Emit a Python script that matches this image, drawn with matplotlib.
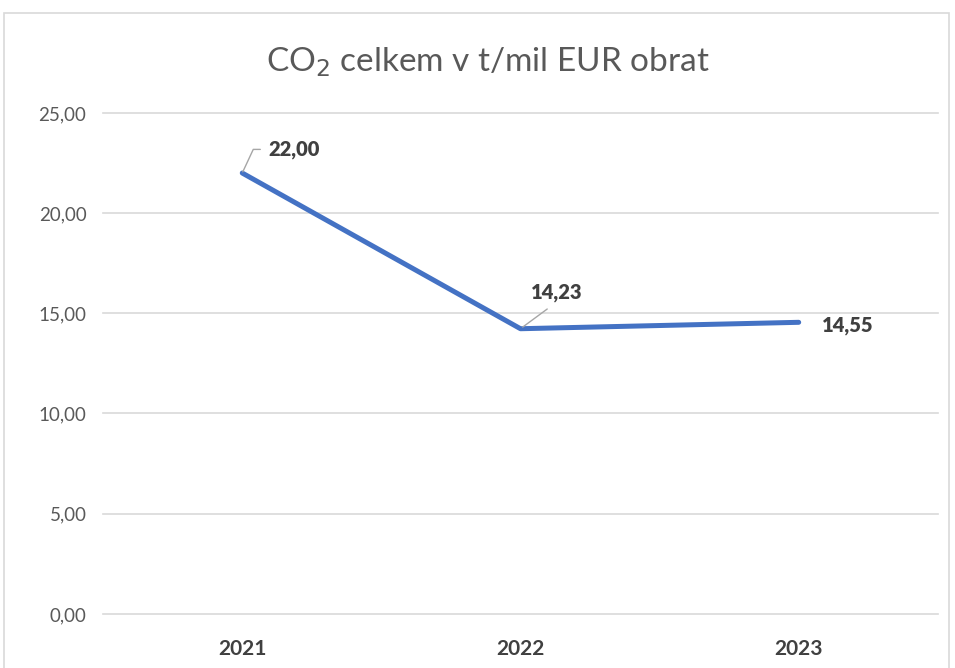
import matplotlib.pyplot as plt
from matplotlib.patches import Rectangle

years = ["2021", "2022", "2023"]
values = [22.00, 14.23, 14.55]
yticks = [0, 5, 10, 15, 20, 25]

plt.rcParams["font.family"] = ["Lato", "DejaVu Sans"]


def fmt(v):
    return f"{v:.2f}".replace(".", ",")


def main():
    fig = plt.figure(figsize=(9.55, 6.68), dpi=100)
    ax = fig.add_axes([0.108, 0.081, 0.874, 0.75])

    # chart border
    fig.patches.append(Rectangle((0.004, -0.01), 0.99, 0.99, transform=fig.transFigure,
                                 fill=False, edgecolor="#d9d9d9", linewidth=1.2))

    x = list(range(len(years)))
    ax.plot(x, values, color="#4472C4", linewidth=3.6, solid_capstyle="round", zorder=3)

    ax.set_xlim(-0.5, len(years) - 0.5)
    ax.set_ylim(0, 25)
    ax.set_yticks(yticks)
    ax.set_yticklabels([fmt(v) for v in yticks], color="#595959", fontsize=13.5)
    ax.set_xticks(x)
    ax.set_xticklabels(years, fontsize=15, fontweight="bold", color="#404040")
    ax.tick_params(length=0, axis="y", pad=12)
    ax.tick_params(length=0, axis="x", pad=18)
    ax.grid(axis="y", color="#d9d9d9", linewidth=1.2)
    for gl in ax.get_ygridlines():
        gl.set_clip_on(False)
    ax.set_axisbelow(True)
    for s in ax.spines.values():
        s.set_visible(False)

    lbl = dict(fontsize=14.5, fontweight="heavy", color="#404040", va="center")
    # 2021 label with elbow leader
    ax.annotate(fmt(values[0]), xy=(x[0], values[0]), xytext=(19, 17), textcoords="offset points",
                ha="left", arrowprops=dict(arrowstyle="-", color="#a6a6a6", lw=1,
                                           connectionstyle="angle,angleA=0,angleB=65,rad=0",
                                           relpos=(0, 0.5), shrinkA=4, shrinkB=1), **lbl)
    ax.annotate(fmt(values[1]), xy=(x[1], values[1]), xytext=(26, 26), textcoords="offset points",
                ha="center", arrowprops=dict(arrowstyle="-", color="#a6a6a6", lw=1,
                                             relpos=(0.5, 0), shrinkA=5, shrinkB=2), **lbl)
    ax.annotate(fmt(values[2]), xy=(x[2], values[2]), xytext=(17, -2), textcoords="offset points",
                ha="left", **lbl)

    fig.text(0.511, 0.907, "CO$_2$ celkem v t/mil EUR obrat", ha="center", va="center",
             fontsize=24, color="#595959")

    fig.savefig("out.png", dpi=100)
    plt.close(fig)


if __name__ == "__main__":
    main()
